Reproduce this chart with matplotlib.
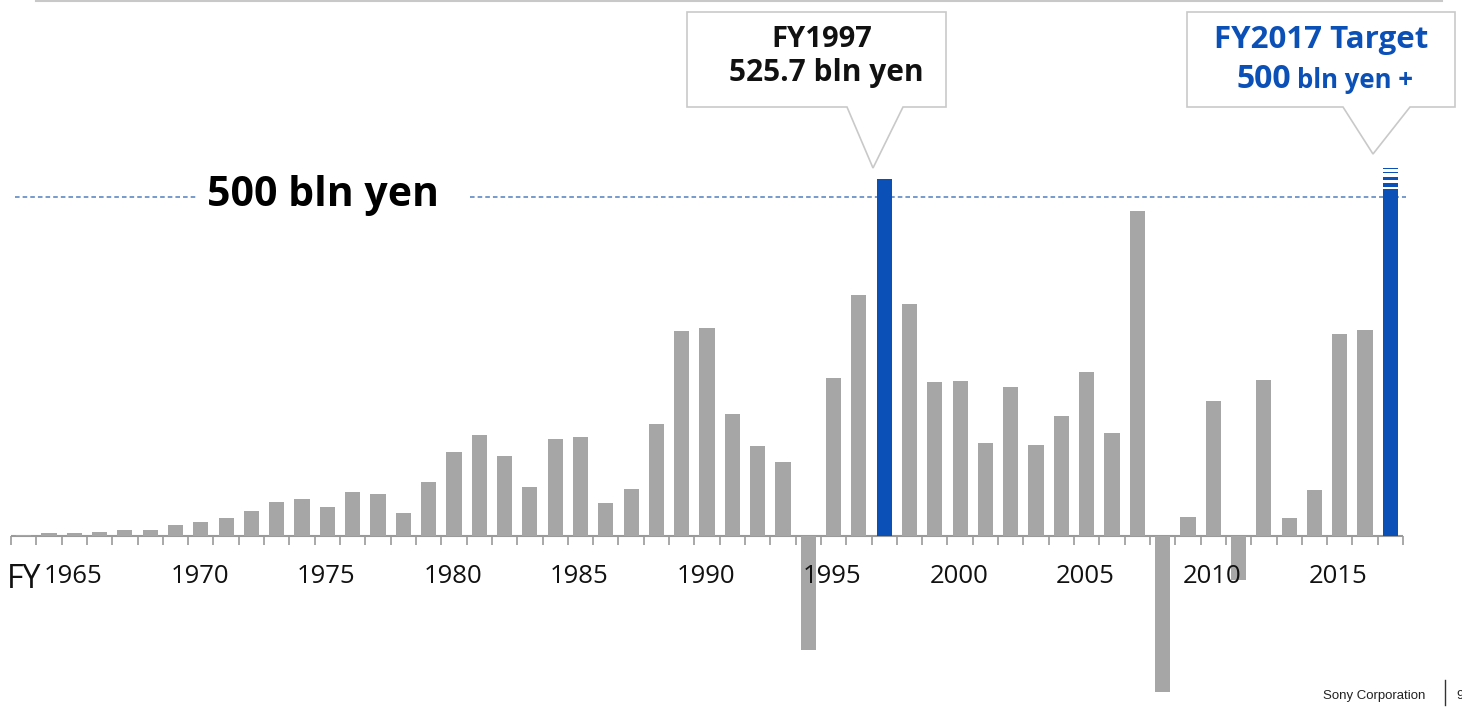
import matplotlib.pyplot as plt
from matplotlib.patches import Polygon

# Sony operating income, bln yen
years = list(range(1963, 2018))
income = [1.5, 3.5, 4, 5.5, 8, 8.5, 16, 20, 26, 37, 49, 54, 43, 65, 61, 34,
          79, 124, 149, 117, 72, 142, 145, 48, 69, 165, 302, 307, 180, 132, 108,
          -169, 232, 355, 525.7, 342, 226, 228, 136, 220, 134, 176, 242, 151, 479,
          -231, 28, 199, -66, 229, 26, 68, 297, 303, 511]
highlight = [1997, 2017]
tick_years = [1965, 1970, 1975, 1980, 1985, 1990, 1995, 2000, 2005, 2010, 2015]
target_line = 500
# the "+" stripes drawn above the FY2017 target bar (bottom, height)
target_stripes = [(513.9, 6.7), (524.6, 4.9), (534.5, 1.9), (540.4, 1.5)]

GRAY = '#a6a6a6'
BLUE = '#0b50b7'
W, H = 1462, 713
PX_YEAR = 25.31
PX_BLN = 0.678
BASE = 535.7

fig = plt.figure(figsize=(W / 100, H / 100), dpi=100)
ax = fig.add_axes([0, 0, 1, 1])
ax.set_xlim(years[0] - 0.5 - 11 / PX_YEAR, years[0] - 0.5 + (W - 11) / PX_YEAR)
ax.set_ylim(-(H - BASE) / PX_BLN, BASE / PX_BLN)
ax.axis('off')


def fx(p):
    return p / W


def fy(p):
    return 1 - p / H


colors = [BLUE if y in highlight else GRAY for y in years]
ax.bar(years, income, width=0.6, color=colors, zorder=3)
for b, h in target_stripes:
    ax.bar(2017, h, bottom=b, width=0.6, color=BLUE, zorder=3)

# axis line + ticks
edges = [y - 0.5 for y in years] + [years[-1] + 0.5]
ax.hlines(0, edges[0], edges[-1], color='#9a9a9a', lw=1.5, zorder=2)
ax.vlines(edges, -14, 0, color='#9a9a9a', lw=1.2, zorder=2)
for y in tick_years:
    ax.text(y - 0.05, -(583 - BASE) / PX_BLN, str(y), ha='center', va='baseline',
            fontsize=18.5, family='Open Sans', color='#111111')
fig.text(fx(7), fy(588), 'FY', ha='left', va='baseline', fontsize=23,
         family='Open Sans', color='#111111')

# 500 bln yen reference line
ls = dict(color='#4f7fbf', lw=1.1, linestyles=(0, (3, 2)), zorder=1)
ax.hlines(target_line, 1962.66, 1969.85, **ls)
ax.hlines(target_line, 1980.64, 2017.6, **ls)
fig.text(fx(207), fy(206), '500 bln yen', ha='left', va='baseline', fontsize=29.5,
         family='Open Sans', weight='bold', color='black')


def callout(left, right, top, bottom, b1, b2, apex):
    pts = [(left, top), (right, top), (right, bottom), (b2, bottom), apex,
           (b1, bottom), (left, bottom)]
    fig.add_artist(Polygon([(fx(x), fy(y)) for x, y in pts], closed=True,
                           transform=fig.transFigure, facecolor='white',
                           edgecolor='#c9c9c9', lw=1.2, zorder=5))


callout(687, 946, 12, 107, 847, 903, (873, 168))
fig.text(fx(822), fy(47), 'FY1997', ha='center', va='baseline', fontsize=21,
         family='Open Sans', weight='bold', color='#111111', zorder=6)
fig.text(fx(826), fy(81), '525.7 bln yen', ha='center', va='baseline', fontsize=21.5,
         family='Open Sans', weight='bold', color='#111111', zorder=6)

callout(1187, 1455, 12, 107, 1343, 1410, (1373, 154))
fig.text(fx(1321), fy(48), 'FY2017 Target', ha='center', va='baseline', fontsize=22.5,
         family='Open Sans', weight='bold', color=BLUE, zorder=6)
fig.text(fx(1291), fy(88), '500', ha='right', va='baseline', fontsize=23,
         family='Open Sans', weight='bold', color=BLUE, zorder=6)
fig.text(fx(1297), fy(88), 'bln yen +', ha='left', va='baseline', fontsize=18.5,
         family='Open Sans', weight='bold', color=BLUE, zorder=6)

# page decorations
fig.add_artist(plt.Line2D([fx(36), fx(1442)], [fy(1), fy(1)], color='#c8c8c8', lw=1.5))
fig.text(fx(1323), fy(699), 'Sony Corporation', ha='left', va='baseline',
         fontsize=9.5, family='Liberation Sans', color='#222222')
fig.add_artist(plt.Line2D([fx(1445), fx(1445)], [fy(680), fy(705)], color='#333333', lw=1))
fig.text(fx(1456), fy(699), '9', ha='left', va='baseline',
         fontsize=9.5, family='Liberation Sans', color='#222222')

fig.savefig('out.png', dpi=100, facecolor='white')
